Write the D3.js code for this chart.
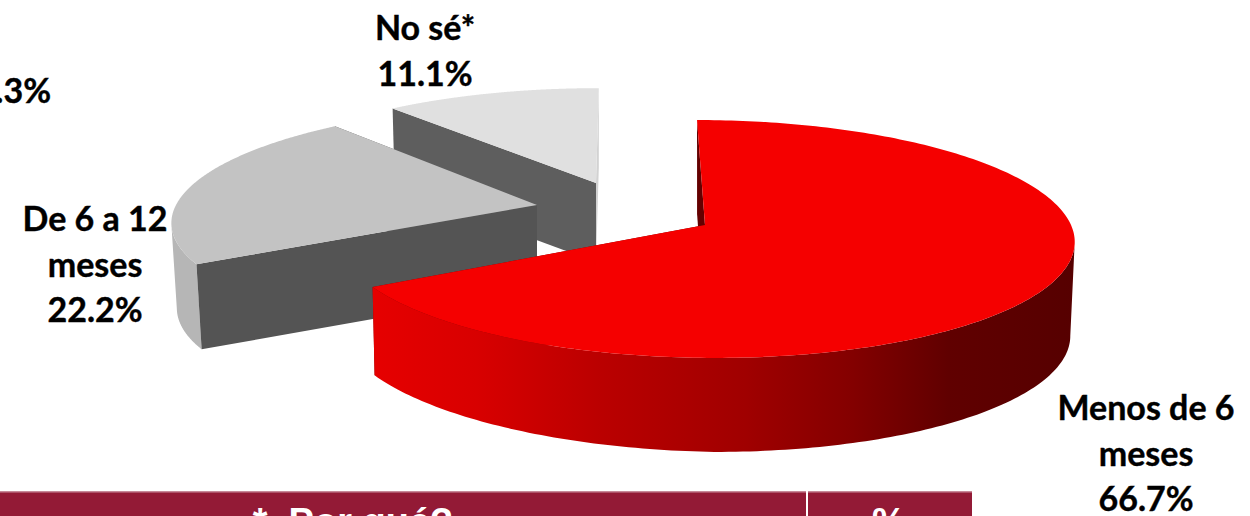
<!DOCTYPE html>
<html><head><meta charset="utf-8">
<script src="https://cdn.jsdelivr.net/npm/d3@7"></script>
<style>html,body{margin:0;padding:0;background:#fff;overflow:hidden}svg{display:block}</style>
</head><body><svg id="c" width="1250" height="516"></svg>
<script>
const categories = ["Menos de 6 meses", "De 6 a 12 meses", "No sé*"];
const values = [66.7, 22.2, 11.1];
const labelLines = [["Menos de 6", "meses"], ["De 6 a 12", "meses"], ["No sé*"]];
const tableHeaders = ["*  Por qué?", "%"];
const strayLabel = "33.3%";

// layout of each exploded slice (projected 3D)
const geometry = [
  {cx:705, cy:225, a:366, b:117.3, k:.1176, s:.076,  depth:94, taper:.07, scL:.994, scR:.988},
  {cx:537, cy:205, a:361, b:112,   k:.1176, s:-.135, depth:85, taper:0,   scL:.985, scR:.985},
  {cx:596, cy:183, a:349, b:106,   k:.1176, s:-.03,  depth:79, taper:0,   scL:.99,  scR:.99}
];
const topFill = ["#f50000", "#c3c3c3", "#e0e0e0"];
const rimFill = ["url(#redRim)", "#b6b6b6", "#d4d4d4"];
const hiddenWall = ["#7a0000", "#5c5c5c", "#d2d2d2"];   // wall at the far edge of each slice
const frontWall = ["#640000", "#545454", "#5e5e5e"];    // wall that faces the viewer
const labelPos = [{x:1146, y:420}, {x:95, y:231}, {x:425, y:40}];

const svg = d3.select("#c");
const grad = svg.append("defs").append("linearGradient").attr("id","redRim")
  .attr("gradientUnits","userSpaceOnUse").attr("x1",372).attr("x2",1075).attr("y1",0).attr("y2",0);
[[0,"#e60000"],[.15,"#d80000"],[.32,"#bb0000"],[.53,"#a00000"],[.68,"#840000"],[.82,"#600000"],[1,"#560000"]]
  .forEach(([o,c])=>grad.append("stop").attr("offset",o).attr("stop-color",c));

const arcs = d3.pie().sort(null)(values);
const line = d3.line();

function project(g, theta, radius, low) {
  const u = Math.sin(theta) * radius, v = -Math.cos(theta) * radius;
  const w = 1 - g.k * v;
  const dy = g.b * v / w;
  let dx = g.a * u / w + g.s * dy;
  if (low) dx *= dx < 0 ? g.scL : g.scR;
  const depth = g.depth * (1 - g.taper * Math.max(0, -u));
  return [g.cx + dx, g.cy + dy + (low ? depth : 0)];
}

[2, 1, 0].forEach(i => {
  const g = geometry[i], d = arcs[i];
  const thetas = d3.range(0, 241).map(t => d.startAngle + (d.endAngle - d.startAngle) * t / 240);
  const node = svg.append("g").attr("class","slice");
  const wall = (theta, fill) => node.append("path")
    .attr("d", line([project(g,theta,1,false), project(g,theta,0,false), project(g,theta,0,true), project(g,theta,1,true)]) + "Z")
    .attr("fill", fill);
  const rim = () => {
    // only the part of the rim that faces the viewer: x falls as the angle grows
    const front = thetas.filter((t,j) => j < thetas.length-1
      ? project(g,thetas[j+1],1,false)[0] < project(g,t,1,false)[0]
      : project(g,t,1,false)[0] < project(g,thetas[j-1],1,false)[0]);
    if (front.length < 2) return;
    node.append("path")
      .attr("d", line(front.map(t=>project(g,t,1,false)).concat(front.slice().reverse().map(t=>project(g,t,1,true)))) + "Z")
      .attr("fill", rimFill[i]);
  };
  if (i === 0) { wall(d.endAngle, hiddenWall[i]); wall(d.startAngle, frontWall[i]); rim(); }
  if (i === 1) { wall(d.endAngle, hiddenWall[i]); rim(); wall(d.startAngle, frontWall[i]); }
  if (i === 2) { rim(); wall(d.endAngle, hiddenWall[i]); wall(d.startAngle, frontWall[i]); }
  node.append("path")
    .attr("d", line([project(g,0,0,false)].concat(thetas.map(t=>project(g,t,1,false)))) + "Z")
    .attr("fill", topFill[i]);
});

// slice labels
const pct = d3.format(".1f");
const labelStyle = t => t.attr("font-family","Lato, 'Open Sans', sans-serif").attr("font-weight",700)
  .attr("font-size",34).attr("fill","#000").attr("stroke","#000").attr("stroke-width",.4);
labelLines.forEach((lines, i) => {
  const t = svg.append("text").attr("text-anchor","middle").call(labelStyle);
  lines.concat(pct(values[i]) + "%").forEach((s,j) =>
    t.append("tspan").attr("x",labelPos[i].x).attr("y",labelPos[i].y + j*45.5).text(s));
});
svg.append("text").attr("x",51).attr("y",103).attr("text-anchor","end").call(labelStyle).text(strayLabel);

// table header
const colX = [0, 808], colW = [806, 164];
tableHeaders.forEach((h,i) => {
  svg.append("rect").attr("x",colX[i]).attr("y",492).attr("width",colW[i]).attr("height",30).attr("fill","#931a36");
  svg.append("rect").attr("x",colX[i]).attr("y",491).attr("width",colW[i]).attr("height",1.5).attr("fill","#c78a99");
  svg.append("text").attr("x",[353,889][i]).attr("y",535).attr("text-anchor","middle")
    .style("white-space","pre")
    .attr("font-family","'Liberation Sans', Arial, sans-serif").attr("font-weight",700)
    .attr("font-size",38).attr("fill","#fff").text(h);
});
</script></body></html>
